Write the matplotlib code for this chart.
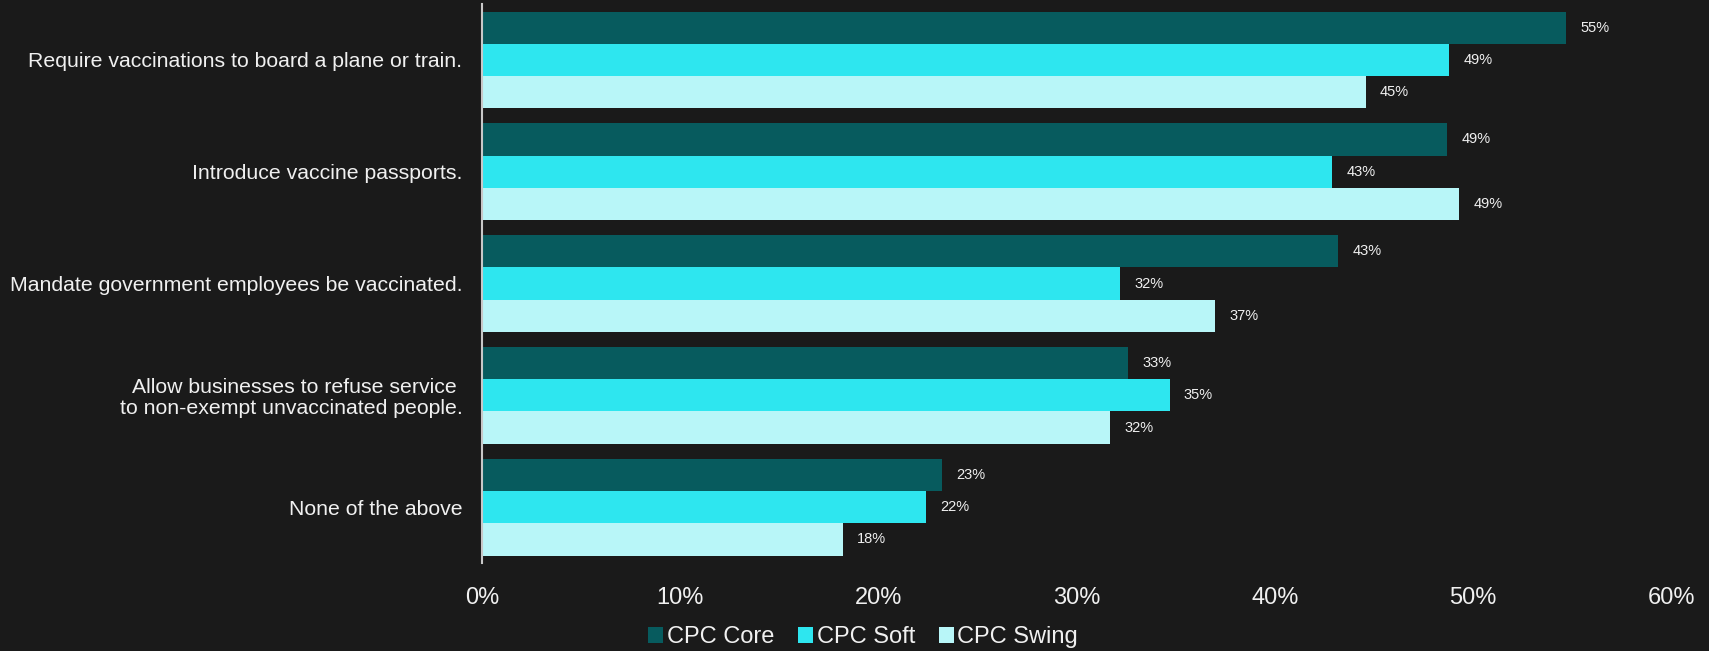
import matplotlib.pyplot as plt
import numpy as np
from matplotlib.ticker import PercentFormatter

# categories and values (share of respondents)
categories = [
    "Require vaccinations to board a plane or train.",
    "Introduce vaccine passports.",
    "Mandate government employees be vaccinated.",
    "Allow businesses to refuse service \nto non-exempt unvaccinated people.",
    "None of the above",
]
series_names = ["CPC Core", "CPC Soft", "CPC Swing"]
cpc_core = [0.547, 0.487, 0.432, 0.326, 0.232]
cpc_soft = [0.488, 0.429, 0.322, 0.347, 0.224]
cpc_swing = [0.446, 0.493, 0.370, 0.317, 0.182]
colors = ["#075B5E", "#2EE6EF", "#B8F6F8"]

bg = "#1a1a1a"
txt = "#f0f0f0"
plt.rcParams['font.family'] = ['Liberation Sans', 'DejaVu Sans']

fig = plt.figure(figsize=(17.09, 6.51), dpi=100, facecolor=bg)
ax = fig.add_axes([0.282, 0.135, 0.696, 0.859], facecolor=bg)

y = np.arange(len(categories))
h = 0.288
for i, (vals, name, c) in enumerate(zip([cpc_core, cpc_soft, cpc_swing], series_names, colors)):
    pos = y + (i - 1) * h
    ax.barh(pos, vals, height=h, color=c, label=name)
    for p, v in zip(pos, vals):
        ax.annotate(f"{v:.0%}", (v, p), xytext=(10, 0), textcoords="offset points",
                    va="center", ha="left", color=txt, fontsize=10.5)

ax.set_xlim(0, 0.6)
ax.set_ylim(len(categories) - 0.5, -0.5)
ax.set_yticks(y)
ax.set_yticklabels(categories, fontsize=15.3, color=txt, linespacing=1.1)
ax.set_xticks(np.arange(0, 0.61, 0.1))
ax.xaxis.set_major_formatter(PercentFormatter(1, decimals=0))
ax.tick_params(axis='x', length=0, pad=17, labelsize=17, labelcolor=txt)
ax.tick_params(axis='y', length=0, pad=14)

for s in ["top", "right", "bottom"]:
    ax.spines[s].set_visible(False)
ax.spines["left"].set_color("#c8c8c8")
ax.spines["left"].set_linewidth(1.5)

leg = fig.legend(loc="center", bbox_to_anchor=(0.505, 0.021), ncol=3, frameon=False,
                 fontsize=17, handlelength=0.65, handleheight=0.65, handletextpad=0.15,
                 columnspacing=1.0, borderpad=0.0)
for t in leg.get_texts():
    t.set_color(txt)

fig.savefig("out.png", dpi=100, facecolor=bg)
